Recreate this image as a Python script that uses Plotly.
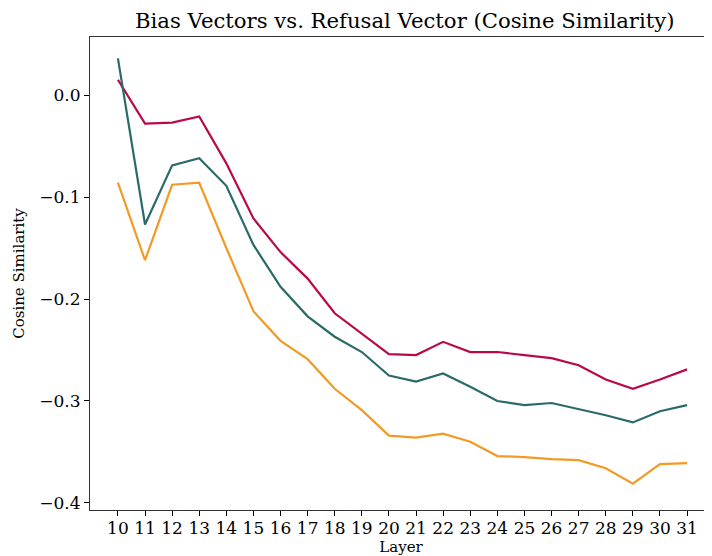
import plotly.graph_objects as go

layers = list(range(10, 32))
crimson_vals = [0.015, -0.028, -0.027, -0.021, -0.067, -0.121, -0.154, -0.180, -0.214, -0.234,
                -0.254, -0.255, -0.242, -0.252, -0.252, -0.255, -0.258, -0.265, -0.279, -0.288,
                -0.279, -0.269]
teal_vals = [0.036, -0.127, -0.069, -0.062, -0.089, -0.147, -0.188, -0.217, -0.237, -0.252,
             -0.275, -0.281, -0.273, -0.286, -0.300, -0.304, -0.302, -0.308, -0.314, -0.321,
             -0.310, -0.304]
orange_vals = [-0.086, -0.162, -0.088, -0.086, -0.150, -0.212, -0.241, -0.259, -0.288, -0.309,
               -0.334, -0.336, -0.332, -0.340, -0.354, -0.355, -0.357, -0.358, -0.366, -0.381,
               -0.362, -0.361]
y_ticks = [0.0, -0.1, -0.2, -0.3, -0.4]
y_tick_text = ["0.0", "\u22120.1", "\u22120.2", "\u22120.3", "\u22120.4"]

FONT = "DejaVu Serif"
W, H = 704, 548
fig = go.Figure()
for vals, color in [(crimson_vals, "#b8094a"), (teal_vals, "#2a6b69"), (orange_vals, "#f29a26")]:
    fig.add_trace(go.Scatter(x=layers, y=vals, mode="lines", line=dict(color=color, width=2.2),
                             showlegend=False))

fig.update_layout(
    width=W, height=H,
    margin=dict(l=82, r=0, t=29, b=46, autoexpand=False),
    plot_bgcolor="white", paper_bgcolor="white",
    font=dict(family=FONT, size=17, color="black"),
    title=dict(text="Bias Vectors vs. Refusal Vector (Cosine Similarity)",
               x=0.506, xref="paper", xanchor="center",
               y=1 - 13 / H, yref="container", yanchor="middle",
               font=dict(family=FONT, size=21.2, color="black")),
)
fig.update_xaxes(range=[8.97, 31.92], tickvals=layers, ticktext=[str(v) for v in layers],
                 ticks="outside", ticklen=5, tickcolor="black", showgrid=False, zeroline=False,
                 showline=True, linecolor="#333", linewidth=1.2, mirror=True,
                 tickfont=dict(family=FONT, size=17), ticklabelstandoff=-3,
                 title=dict(text="Layer", font=dict(family=FONT, size=15), standoff=4))
fig.update_yaxes(range=[-0.4069, 0.0569], tickvals=y_ticks, ticktext=y_tick_text,
                 ticks="outside", ticklen=5, tickcolor="black", showgrid=False, zeroline=False,
                 showline=True, linecolor="#333", linewidth=1.2, mirror=True,
                 tickfont=dict(family=FONT, size=17),
                 title=dict(text="Cosine Similarity", font=dict(family=FONT, size=15), standoff=10))
fig.write_html("out.html")
